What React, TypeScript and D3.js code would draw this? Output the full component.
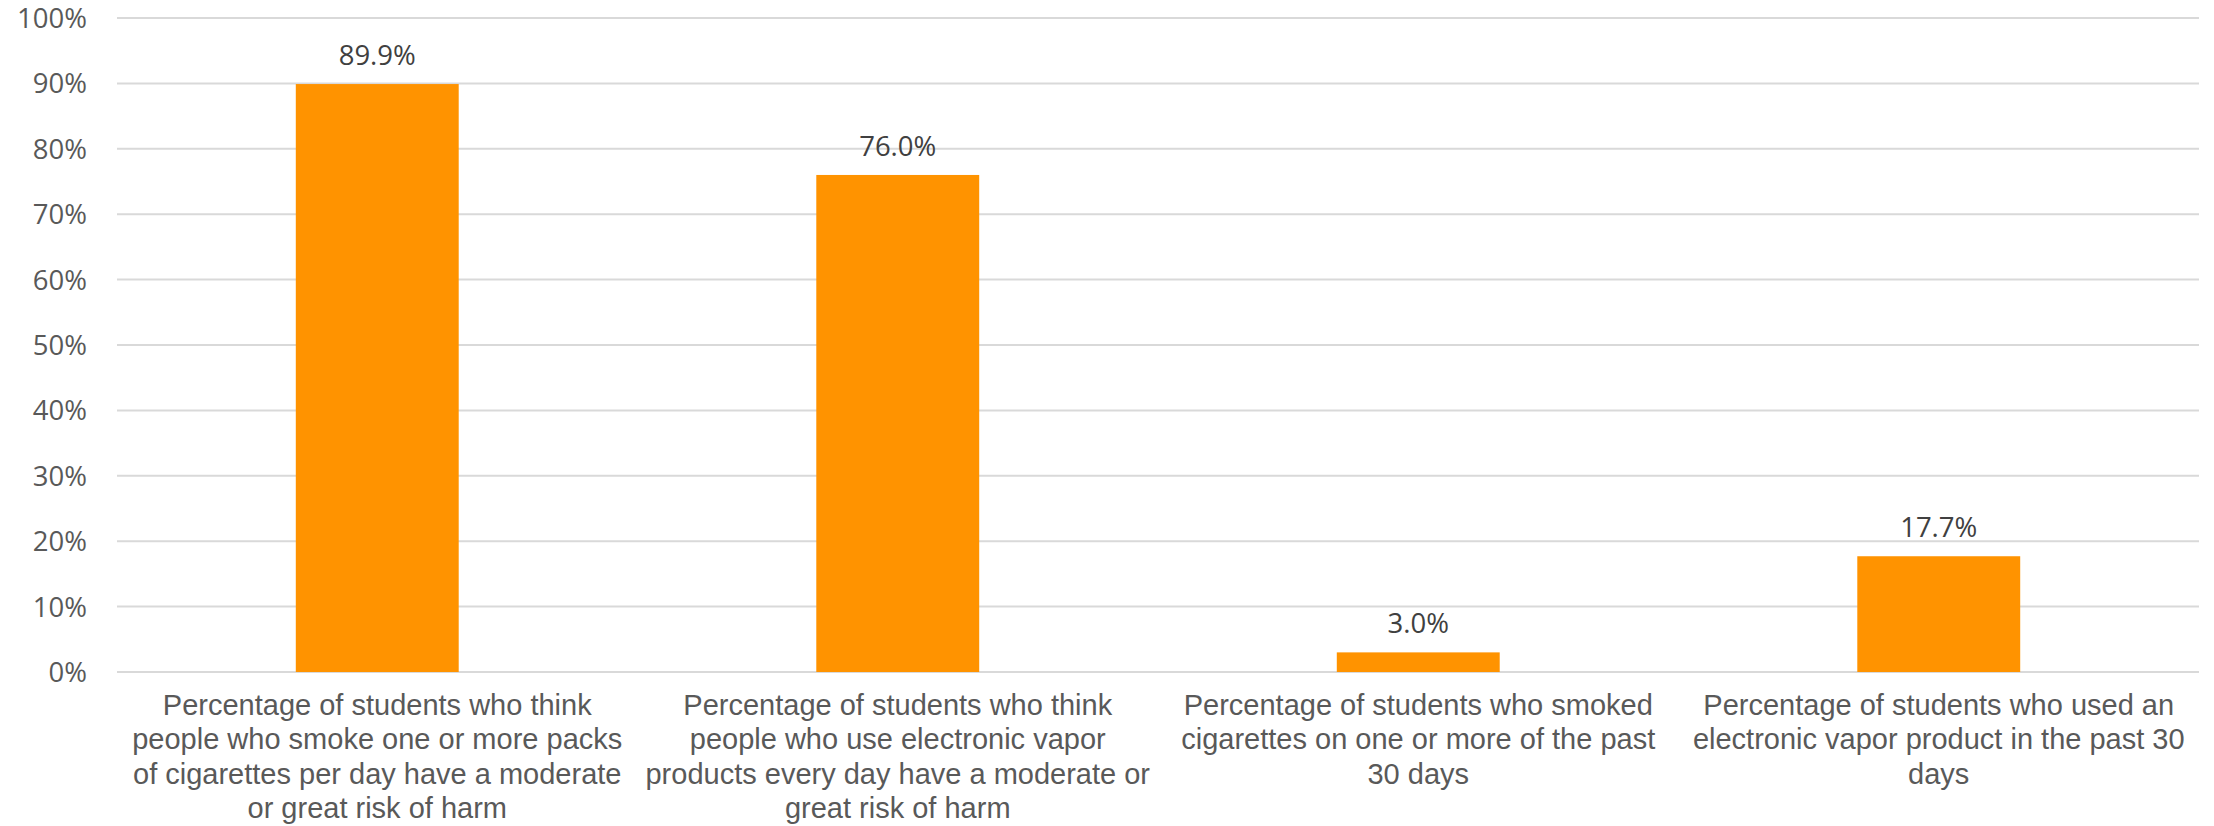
import React from "react";
import * as d3 from "d3";

const categories: string[] = [
  "Percentage of students who think\npeople who smoke one or more packs\nof cigarettes per day have a moderate\nor great risk of harm",
  "Percentage of students who think\npeople who use electronic vapor\nproducts every day have a moderate or\ngreat risk of harm",
  "Percentage of students who smoked\ncigarettes on one or more of the past\n30 days",
  "Percentage of students who used an\nelectronic vapor product in the past 30\ndays",
];
const values: number[] = [0.899, 0.76, 0.03, 0.177];
const yTicks: number[] = [0, 0.1, 0.2, 0.3, 0.4, 0.5, 0.6, 0.7, 0.8, 0.9, 1.0];

const W = 2214;
const H = 826;
const left = 117;
const right = 2199;
const top = 18;
const bottom = 672;

export default function App() {
  const x = d3
    .scaleBand<number>()
    .domain(categories.map((_, i) => i))
    .range([left, right])
    .paddingInner(0.687)
    .paddingOuter(0.3435);
  const y = d3.scaleLinear().domain([0, 1]).range([bottom, top]);
  const pct0 = d3.format(".0%");
  const pct1 = d3.format(".1%");

  return (
    <svg
      width={W}
      height={H}
      style={{ position: "absolute", left: 0, top: 0, background: "#fff" }}
    >
      <g>
        {yTicks.map((t) => (
          <g key={t}>
            <line
              x1={left}
              x2={right}
              y1={y(t)}
              y2={y(t)}
              stroke="#D9D9D9"
              strokeWidth={2}
            />
            <text
              x={87}
              y={y(t)}
              dy="0.36em"
              textAnchor="end"
              fontFamily="'Open Sans', sans-serif"
              fontSize={27.5}
              fill="#595959"
            >
              {pct0(t)}
            </text>
          </g>
        ))}
      </g>
      <g>
        {values.map((v, i) => {
          const bx = x(i)!;
          const bw = x.bandwidth();
          return (
            <g key={i}>
              <rect
                x={bx}
                y={y(v)}
                width={bw}
                height={y(0) - y(v)}
                fill="#FF9300"
              />
              <text
                x={bx + bw / 2}
                y={y(v) - 19}
                textAnchor="middle"
                fontFamily="'Open Sans', sans-serif"
                fontSize={27.5}
                fill="#404040"
              >
                {pct1(v)}
              </text>
            </g>
          );
        })}
      </g>
      <g>
        {categories.map((c, i) => {
          const cx = x(i)! + x.bandwidth() / 2;
          return (
            <text
              key={i}
              x={cx}
              y={715}
              textAnchor="middle"
              fontFamily="'Liberation Sans', Arial, sans-serif"
              fontSize={29}
              fill="#595959"
            >
              {c.split("\n").map((line, j) => (
                <tspan key={j} x={cx} dy={j === 0 ? 0 : 34.3}>
                  {line}
                </tspan>
              ))}
            </text>
          );
        })}
      </g>
    </svg>
  );
}
